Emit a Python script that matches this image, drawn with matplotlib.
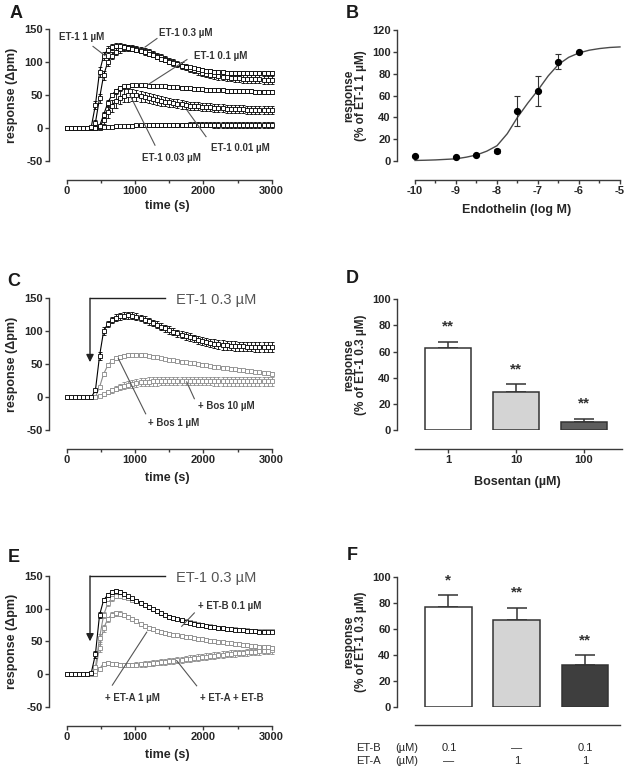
import matplotlib
matplotlib.use("Agg")
import matplotlib.pyplot as plt

plt.rcParams['font.family'] = ['Liberation Sans', 'DejaVu Sans']
plt.rcParams['axes.unicode_minus'] = False

# ---------------- data ----------------
t = [0, 60, 120, 180, 240, 300, 360, 420, 480, 540,
     600, 660, 720, 780, 840, 900, 960, 1020, 1080, 1140,
     1200, 1260, 1320, 1380, 1440, 1500, 1560, 1620, 1680, 1740,
     1800, 1860, 1920, 1980, 2040, 2100, 2160, 2220, 2280, 2340,
     2400, 2460, 2520, 2580, 2640, 2700, 2760, 2820, 2880, 2940,
     3000]

# Panel A: ET-1 concentration series
a_1uM = [0, 0, 0, 0, 0, 0, 2, 35, 85, 110,
         119, 123, 125, 124.5, 123.5, 122, 120.5, 119, 117, 115,
         113, 110.5, 108, 105.5, 103, 101, 99, 97, 95, 93.5,
         92, 90.5, 89, 88, 87, 86, 85.5, 85, 84.5, 84,
         84, 83.5, 83.5, 83.5, 83, 83, 83, 83, 83, 83,
         83]
a_1uM_err = [0.5, 0.5, 0.5, 0.5, 0.5, 0.5, 1, 6, 8, 6,
             5, 4, 4, 4, 3.5, 3.5, 3.5, 3.5, 3.5, 3.5,
             3, 3, 3, 3, 3, 3, 3, 3, 3, 3,
             3, 3, 3, 3, 3, 3, 3, 3, 3, 3,
             3, 3, 3, 3, 3, 3, 3, 3, 3, 3,
             3]
a_03uM = [0, 0, 0, 0, 0, 0, 0, 8, 45, 80,
          100, 110, 116, 119.5, 121, 122, 121.5, 120.5, 119, 117,
          115, 112.5, 110, 107.5, 105, 102.5, 100, 97.5, 95, 92.5,
          90, 88, 86, 84, 82.5, 81, 80, 79, 78, 77,
          76.5, 76, 75.5, 75, 74.5, 74.5, 74, 74, 73.5, 73.5,
          73]
a_03uM_err = [0.5, 0.5, 0.5, 0.5, 0.5, 0.5, 0.5, 4, 7, 7,
              6, 5, 5, 5, 4.5, 4.5, 4.5, 4.5, 4.5, 4.5,
              4.5, 4.5, 4.5, 4.5, 4.5, 4.5, 5, 5, 5, 5,
              5, 5, 5, 5, 5, 5, 5.5, 5.5, 5.5, 5.5,
              5.5, 5.5, 5.5, 6, 6, 6, 6, 6, 6, 6,
              6]
a_01uM = [0, 0, 0, 0, 0, 0, 0, 0, 3, 20,
          38, 50, 57, 61, 63.5, 64.5, 65, 65, 65, 65,
          64.5, 64.5, 64, 64, 63.5, 63, 62.5, 62, 61.5, 61,
          60.5, 60, 59.5, 59, 58.5, 58, 58, 57.5, 57.5, 57,
          57, 56.5, 56.5, 56, 56, 56, 55.5, 55.5, 55.5, 55.5,
          55.5]
a_01uM_err = [0.5, 0.5, 0.5, 0.5, 0.5, 0.5, 0.5, 0.5, 2, 4,
              4, 3, 3, 2.5, 2.5, 2, 2, 2, 2, 2,
              2, 2, 2, 2, 2, 2, 2, 2.5, 2.5, 2.5,
              2.5, 2.5, 2.5, 2.5, 2.5, 2.5, 2.5, 3, 3, 3,
              3, 3, 3, 3, 3, 3, 3, 3, 3, 3,
              3]
a_003uM = [0, 0, 0, 0, 0, 0, 0, 0, 2, 12,
           24, 34, 41, 46, 49, 50, 50, 49.5, 48.5, 47,
           45.5, 44, 42.5, 41, 40, 39, 38, 37, 36, 35,
           34, 33.5, 33, 32.5, 32, 31.5, 31, 30.5, 30, 29.5,
           29, 29, 28.5, 28.5, 28, 28, 28, 27.5, 27.5, 27,
           27]
a_003uM_err = [0.5, 0.5, 0.5, 0.5, 0.5, 0.5, 0.5, 0.5, 3, 6,
               8, 9, 10, 10, 10, 10, 9, 9, 8.5, 8,
               8, 7.5, 7.5, 7, 7, 7, 6.5, 6.5, 6.5, 6,
               6, 6, 6, 6, 6, 6, 6, 6, 6, 6,
               6, 6, 6, 6, 6, 6, 6, 6, 6, 6,
               6]
a_001uM = [0, 0, 0, 0, 0, 0, 0, 0, 0, 1,
           1.5, 2, 2.5, 3, 3, 3.5, 3.5, 4, 4, 4,
           4.5, 4.5, 4.5, 4.5, 5, 5, 5, 5, 5, 5,
           5, 5, 5, 5, 5, 5, 4.5, 4.5, 4.5, 4.5,
           4.5, 4.5, 4.5, 4.5, 4, 4, 4, 4, 4, 4,
           4]
a_001uM_err = [0.5, 0.5, 0.5, 0.5, 0.5, 0.5, 0.5, 0.5, 0.5, 1,
               1.5, 1.5, 2, 2, 2, 2, 2, 2.5, 2.5, 2.5,
               2.5, 2.5, 3, 3, 3, 3, 3, 3, 3, 3,
               3.5, 3.5, 3.5, 3.5, 3.5, 3.5, 4, 4, 4, 4,
               4, 4, 4, 4, 4.5, 4.5, 4.5, 4.5, 4.5, 4.5,
               4.5]

# Panel B: concentration-response
b_logc = [-10, -9, -8.5, -8, -7.5, -7, -6.5, -6]
b_resp = [5, 3.5, 5.5, 9, 46, 64, 91, 100]
b_err = [0, 0, 0, 2, 14, 13.5, 7, 0]
b_fit_x = [-10, -9.75, -9.5, -9.25, -9, -8.75, -8.5, -8.25, -8, -7.75, -7.5,
           -7.25, -7, -6.75, -6.5, -6.25, -6, -5.75, -5.5, -5.25, -5]
b_fit_y = [0.5, 0.7, 1, 1.5, 2, 3.5, 5.5, 9, 14, 25, 40,
           53, 65, 78, 88.5, 95, 99, 101.5, 103, 104, 104.5]

# Panel C: ET-1 0.3 uM +/- bosentan
c_ctrl = [0, 0, 0, 0, 0, 0, 0, 10, 62, 100,
          111, 117, 120.5, 122.5, 123.5, 124, 123.5, 122, 120, 117.5,
          115, 112.5, 110, 107, 104.5, 102, 99.5, 97, 95, 93,
          91, 89, 87, 85, 83.5, 82, 81, 80, 79, 78.5,
          78, 77.5, 77, 77, 76.5, 76.5, 76, 76, 76, 76,
          76]
c_ctrl_err = [0.5, 0.5, 0.5, 0.5, 0.5, 0.5, 0.5, 3, 6, 6,
              5, 5, 5, 5, 5, 5, 5, 5, 5, 5,
              5, 5, 5, 5.5, 5.5, 5.5, 5.5, 5.5, 6, 6,
              6, 6, 6, 6, 6.5, 6.5, 6.5, 6.5, 7, 7,
              7, 7, 7, 7, 7, 7, 7, 7, 7, 7,
              7]
c_bos1 = [0, 0, 0, 0, 0, 0, 0, 0, 15, 35,
          48, 55, 59, 61.5, 63, 64, 64.5, 64.5, 64, 63.5,
          62.5, 61.5, 60.5, 59.5, 58, 57, 56, 55, 54, 53,
          52, 51, 50, 49, 48, 47, 46, 45.5, 44.5, 44,
          43, 42, 41.5, 40.5, 40, 39, 38.5, 37.5, 37, 36,
          35.5]
c_bos1_err = [0.5, 0.5, 0.5, 0.5, 0.5, 0.5, 0.5, 0.5, 2, 3,
              3, 3, 3, 3, 2.5, 2.5, 2.5, 2.5, 2.5, 2.5,
              2, 2, 2, 2, 2, 2, 2, 2, 2, 2,
              2, 2, 2, 2, 2, 2, 2, 2, 2, 2,
              2, 2, 2, 2, 2, 2, 2, 2, 2, 2,
              2]
c_bos10 = [0, 0, 0, 0, 0, 0, 0, 0, 1, 4,
           7, 10, 13, 15.5, 17.5, 19, 20.5, 21.5, 22.5, 23,
           23.5, 24, 24, 24.5, 24.5, 24.5, 24.5, 24.5, 24.5, 24.5,
           24.5, 24.5, 24.5, 24.5, 24.5, 24.5, 24, 24, 24, 24,
           24, 24, 24, 24, 24, 24, 24, 24, 24, 24,
           24]
c_bos10_err = [0.5, 0.5, 0.5, 0.5, 0.5, 0.5, 0.5, 0.5, 1, 2,
               3, 3.5, 4, 4.5, 5, 5.5, 6, 6, 6, 6.5,
               6.5, 6.5, 6.5, 6.5, 6.5, 6.5, 6.5, 6.5, 6.5, 6.5,
               6.5, 6.5, 6.5, 6.5, 6.5, 6.5, 6.5, 6.5, 6.5, 6.5,
               6.5, 6.5, 6.5, 6.5, 6.5, 6.5, 6.5, 6.5, 6.5, 6.5,
               6.5]

# Panel D: bosentan bars
d_labels = ['1', '10', '100']
d_vals = [62.5, 29, 6.4]
d_err = [5, 6, 2]
d_sig = ['**', '**', '**']

# Panel E: ET-1 0.3 uM +/- receptor antagonists
e_ctrl = [0, 0, 0, 0, 0, 0, 2, 30, 90, 113,
          121, 125.5, 127, 125.5, 123, 119.5, 116, 112.5, 109, 105.5,
          102, 99, 96, 93, 90.5, 88, 86, 84, 82, 80,
          78.5, 77, 75.5, 74.5, 73.5, 72.5, 71.5, 70.5, 70, 69,
          68.5, 68, 67.5, 67, 66.5, 66, 65.5, 65, 65, 64.5,
          64.5]
e_ctrl_err = [0.5, 0.5, 0.5, 0.5, 0.5, 0.5, 1, 5, 5, 3,
              3, 2.5, 2.5, 2.5, 2, 2, 2, 2, 2, 2,
              2, 2, 2, 2, 2, 2, 2, 2, 2, 2,
              2, 2, 2, 2, 2, 2, 2, 2, 2, 2,
              2, 2, 2, 2, 2, 2, 2, 2, 2, 2,
              2]
e_etb = [0, 0, 0, 0, 0, 0, 0, 10, 55, 90,
         108, 116, 119, 119, 118, 116, 113.5, 111, 108, 105,
         102, 99, 96, 93, 90.5, 88, 86, 84, 82, 80.5,
         79, 77.5, 76, 75, 74, 73, 72, 71, 70.5, 69.5,
         69, 68.5, 68, 67.5, 67, 66.5, 66, 66, 65.5, 65.5,
         65.5]
e_etb_err = [0.5, 0.5, 0.5, 0.5, 0.5, 0.5, 0.5, 4, 6, 5,
             4, 3.5, 3, 3, 3, 3, 3, 3, 3, 3,
             3, 3, 3, 3, 3, 3, 3, 3, 3, 3,
             3, 3, 3, 3, 3, 3, 3, 3, 3, 3,
             3, 3, 3, 3, 3, 3, 3, 3, 3, 3,
             3]
e_eta = [0, 0, 0, 0, 0, 0, 0, 5, 40, 70,
         84, 91, 93, 92.5, 91, 88, 84, 80.5, 77, 74,
         71, 68.5, 66.5, 64.5, 63, 61.5, 60, 59, 58, 57,
         56, 55, 54, 53, 52, 51, 50, 49.5, 48.5, 48,
         47, 46.5, 45.5, 45, 44, 43.5, 42.5, 42, 41.5, 41,
         40.5]
e_eta_err = [0.5, 0.5, 0.5, 0.5, 0.5, 0.5, 0.5, 4, 6, 5,
             4, 3.5, 3.5, 3.5, 3, 3, 3, 3, 3, 3,
             3, 3, 3, 3, 3, 3, 3, 3, 3, 3,
             3, 3, 3, 3, 3, 3, 3, 3, 3, 3,
             3, 3, 3, 3, 3, 3, 3, 3, 3, 3,
             3]
e_both = [0, 0, 0, 0, 0, 0, 0, 0, 8, 16,
          17, 16, 15, 14, 13.5, 13.5, 14, 14.5, 15, 15.5,
          16, 17, 17.5, 18.5, 19, 20, 20.5, 21.5, 22, 23,
          23.5, 24.5, 25, 26, 26.5, 27.5, 28, 29, 29.5, 30.5,
          31, 31.5, 32, 32.5, 33, 33.5, 34, 34.5, 35, 35.5,
          36]
e_both_err = [0.5, 0.5, 0.5, 0.5, 0.5, 0.5, 0.5, 0.5, 3, 3,
              3, 3, 3, 3, 3, 3.5, 3.5, 3.5, 3.5, 4,
              4, 4, 4, 4, 4.5, 4.5, 4.5, 4.5, 4.5, 4.5,
              5, 5, 5, 5, 5, 5, 5, 5, 5, 5,
              5, 5, 5, 5, 5, 5, 5, 5, 5, 5,
              5]

# Panel F: antagonist bars
f_vals = [76.7, 67, 32]
f_err = [9, 9, 7.5]
f_sig = ['*', '**', '**']
f_etb = ['0.1', '\u2014', '0.1']
f_eta = ['\u2014', '1', '1']

# tick definitions
tc_xticks = [0, 1000, 2000, 3000]
tc_xminor = [500, 1500, 2500]
tc_yticks = [-50, 0, 50, 100, 150]
b_xticks = [-10, -9, -8, -7, -6, -5]
b_xminor = [-9.5, -8.5, -7.5, -6.5, -5.5]
b_yticks = [0, 20, 40, 60, 80, 100, 120]
bar_yticks = [0, 20, 40, 60, 80, 100]

# ---------------- figure ----------------
W, H = 629, 773
fig = plt.figure(figsize=(W / 100, H / 100), dpi=100)
SP = '#3a3a3a'
TXT = '#262626'
GRAY = '#8a8a8a'
PT = 0.72  # points per pixel


def ax_px(left, top, right, bottom):
    return fig.add_axes([left / W, 1 - bottom / H, (right - left) / W, (bottom - top) / H])


def ftext(x, y, s, **kw):
    return fig.text(x / W, 1 - y / H, s, **kw)


def style(ax, yoff, xoff):
    for s in ['top', 'right']:
        ax.spines[s].set_visible(False)
    ax.spines['left'].set_position(('outward', yoff * PT))
    ax.spines['bottom'].set_position(('outward', xoff * PT))
    for s in ['left', 'bottom']:
        ax.spines[s].set_color(SP)
        ax.spines[s].set_linewidth(1.0)
    ax.tick_params(which='major', length=3, width=1, color=SP, pad=1.5,
                   labelsize=8, labelcolor=TXT)
    ax.tick_params(which='minor', length=2, width=1, color=SP)
    ax.patch.set_visible(False)


def set_ticks(ax, xt=None, xl=None, yt=None, minor=None):
    if xt is not None:
        ax.set_xticks(xt)
        ax.set_xticklabels(xl if xl is not None else [str(v) for v in xt], fontweight='bold')
    if minor is not None:
        ax.set_xticks(minor, minor=True)
    if yt is not None:
        ax.set_yticks(yt)
        ax.set_yticklabels([str(v) for v in yt], fontweight='bold')


def series(ax, y, e, color, z=3):
    cont = ax.errorbar(t, y, yerr=e, color=color, lw=0.8, marker='s', ms=2.4,
                       mfc='white', mec=color, mew=0.6, ecolor=color,
                       elinewidth=0.6, capsize=1.6, capthick=0.7, zorder=z)
    for art in cont.get_children():
        art.set_clip_on(False)


def note(ax, text, xy_text, xy_line0, xy_line1, ha='left', size=7):
    ax.plot([xy_line0[0], xy_line1[0]], [xy_line0[1], xy_line1[1]], color='#555555',
            lw=0.8, clip_on=False, zorder=5)
    ax.text(xy_text[0], xy_text[1], text, ha=ha, va='center', fontsize=size,
            fontweight='bold', color='#333333', clip_on=False, zorder=6)


def timecourse_axes(top, bottom):
    ax = ax_px(66.7, top, 271.7, bottom)
    ax.set_xlim(0, 3000)
    ax.set_ylim(-50, 150)
    style(ax, 17.7, 19)
    ax.spines['left'].set_bounds(-50, 150)
    ax.spines['bottom'].set_bounds(0, 3000)
    set_ticks(ax, tc_xticks, None, tc_yticks, tc_xminor)
    return ax


# ---- Panel A ----
axA = timecourse_axes(29.3, 161)
series(axA, a_001uM, a_001uM_err, 'black')
series(axA, a_003uM, a_003uM_err, 'black')
series(axA, a_01uM, a_01uM_err, 'black')
series(axA, a_03uM, a_03uM_err, 'black')
series(axA, a_1uM, a_1uM_err, 'black')
note(axA, 'ET-1 1 \u00b5M', (224, 139), (385, 124), (560, 110), ha='center')
note(axA, 'ET-1 0.3 \u00b5M', (1746, 145), (1321, 136), (1146, 123), ha='center')
note(axA, 'ET-1 0.1 \u00b5M', (2260, 110), (1760, 104), (1190, 66), ha='center')
note(axA, 'ET-1 0.01 \u00b5M', (2537, -31), (2039, -13), (1761, 27), ha='center')
note(axA, 'ET-1 0.03 \u00b5M', (1527, -46), (1292, -26), (926, 50), ha='center')

# ---- Panel B ----
axB = ax_px(415, 30, 620, 161)
axB.set_xlim(-10, -5)
axB.set_ylim(0, 120)
style(axB, 18, 19)
axB.spines['left'].set_bounds(0, 120)
axB.spines['bottom'].set_bounds(-10, -5)
set_ticks(axB, b_xticks, None, b_yticks, b_xminor)
axB.plot(b_fit_x, b_fit_y, color='#4a4a4a', lw=1.0, zorder=2, clip_on=False)
cb = axB.errorbar(b_logc, b_resp, yerr=b_err, fmt='o', color='black', ms=4.2,
                  ecolor='#333333', elinewidth=0.8, capsize=2.5, capthick=0.8, zorder=3)
for art in cb.get_children():
    art.set_clip_on(False)


# ---- bar panels ----
def bar_axes(top, bottom, right, xlim_r):
    ax = ax_px(415, top, right, bottom)
    ax.set_xlim(-0.49, xlim_r)
    ax.set_ylim(0, 100)
    style(ax, 18, 19)
    ax.spines['left'].set_bounds(0, 100)
    set_ticks(ax, None, None, bar_yticks)
    return ax


def bars(ax, vals, errs, sig, colors):
    xs = list(range(len(vals)))
    ax.bar(xs, vals, width=0.68, color=colors, edgecolor='#333333', linewidth=1.1, zorder=3)
    ax.errorbar(xs, vals, yerr=[[0] * len(vals), errs], fmt='none', ecolor='#333333',
                elinewidth=1.1, capsize=7.5, capthick=1.1, zorder=2)
    for x, v, e, s in zip(xs, vals, errs, sig):
        ax.text(x, v + e + 8.5, s, ha='center', va='baseline', fontsize=11,
                fontweight='bold', color='#333333')


axD = bar_axes(299.3, 430, 622, 2.56)
axD.set_xticks(range(len(d_labels)))
axD.set_xticklabels(d_labels, fontweight='bold')
bars(axD, d_vals, d_err, d_sig, ['white', '#d4d4d4', '#5e5e5e'])

axF = bar_axes(576.7, 706.7, 620, 2.515)
axF.spines['bottom'].set_position(('outward', 18.3 * PT))
axF.set_xticks([])
bars(axF, f_vals, f_err, f_sig, ['white', '#d4d4d4', '#3e3e3e'])
for i, (b, a) in enumerate(zip(f_etb, f_eta)):
    xp = 449 + 68 * i
    ftext(xp, 748, b, ha='center', va='center', fontsize=8, color=TXT)
    ftext(xp, 761, a, ha='center', va='center', fontsize=8, color=TXT)
ftext(356, 748, 'ET-B', ha='left', va='center', fontsize=8, color=TXT)
ftext(356, 761, 'ET-A', ha='left', va='center', fontsize=8, color=TXT)
ftext(395, 748, '(\u00b5M)', ha='left', va='center', fontsize=8, color=TXT)
ftext(395, 761, '(\u00b5M)', ha='left', va='center', fontsize=8, color=TXT)


# ---- Panels C & E ----
def stim_arrow(ax, tip):
    ax.annotate('', xy=(341, tip), xytext=(341, 150),
                arrowprops=dict(arrowstyle='-|>', color='#222222', lw=1.0,
                                mutation_scale=11, shrinkA=0, shrinkB=0),
                annotation_clip=False)
    ax.plot([341, 1440], [150, 150], color='#222222', lw=1.0, clip_on=False)
    ax.text(1595, 147.5, 'ET-1 0.3 \u00b5M', ha='left', va='center', fontsize=10.5,
            color='#555555')


axC = timecourse_axes(298.3, 430)
series(axC, c_bos10, c_bos10_err, GRAY)
series(axC, c_bos1, c_bos1_err, GRAY)
series(axC, c_ctrl, c_ctrl_err, 'black', z=4)
stim_arrow(axC, 53)
note(axC, '+ Bos 10 \u00b5M', (1927, -13.7), (1868, -2.5), (1756, 23))
note(axC, '+ Bos 1 \u00b5M', (1195, -39.7), (1156, -25.4), (756, 58.5))

axE = timecourse_axes(576, 706.7)
series(axE, e_both, e_both_err, GRAY)
series(axE, e_eta, e_eta_err, GRAY)
series(axE, e_etb, e_etb_err, GRAY)
series(axE, e_ctrl, e_ctrl_err, 'black', z=4)
stim_arrow(axE, 50)
note(axE, '+ ET-B 0.1 \u00b5M', (1927, 104), (1868, 93.5), (1683, 73))
note(axE, '+ ET-A 1 \u00b5M', (561, -36), (668, -17), (1171, 64))
note(axE, '+ ET-A + ET-B', (1951, -36), (1902, -18), (1610, 20.5))

# ---- axis titles ----
for yc in (95, 364, 641.5):
    ftext(12, yc, 'response (\u0394pm)', rotation=90, ha='center', va='center',
          fontsize=9, fontweight='bold', color=TXT)
ftext(167, 206, 'time (s)', ha='center', va='center', fontsize=9, fontweight='bold', color=TXT)
ftext(167, 478, 'time (s)', ha='center', va='center', fontsize=9, fontweight='bold', color=TXT)
ftext(167, 755, 'time (s)', ha='center', va='center', fontsize=9, fontweight='bold', color=TXT)
ftext(517, 210, 'Endothelin (log M)', ha='center', va='center', fontsize=9,
      fontweight='bold', color=TXT)
ftext(517, 482, 'Bosentan (\u00b5M)', ha='center', va='center', fontsize=9,
      fontweight='bold', color=TXT)
for yc, lab in ((95.5, 'response\n(% of ET-1 1 \u00b5M)'),
                (365, 'response\n(% of ET-1 0.3 \u00b5M)'),
                (642, 'response\n(% of ET-1 0.3 \u00b5M)')):
    ftext(355, yc, lab, rotation=90, ha='center', va='center', fontsize=8.5,
          fontweight='bold', color=TXT, linespacing=0.95, multialignment='center')

# ---- panel letters ----
for x, y, s in ((16, 14, 'A'), (352, 14, 'B'), (14, 282, 'C'), (352, 279, 'D'),
                (14, 558, 'E'), (352, 555, 'F')):
    ftext(x, y, s, ha='center', va='center', fontsize=13, fontweight='bold', color='#1a1a1a')

fig.savefig('out.png', dpi=100)
